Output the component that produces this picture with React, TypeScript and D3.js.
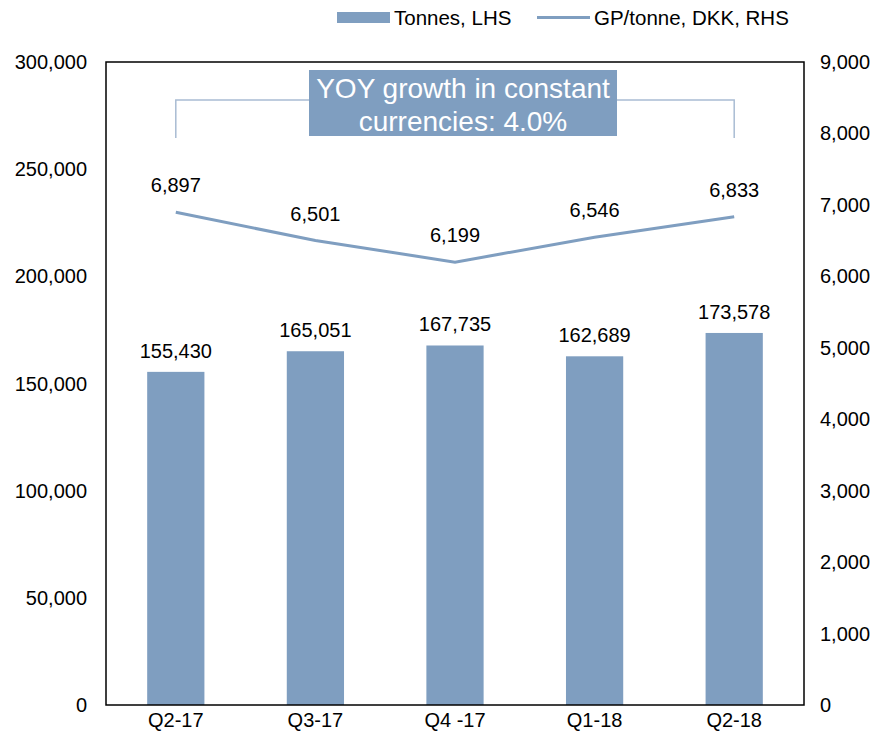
import React from "react";
import * as d3 from "d3";

const categories = ["Q2-17", "Q3-17", "Q4 -17", "Q1-18", "Q2-18"];
const tonnes = [155430, 165051, 167735, 162689, 173578];
const gpPerTonne = [6897, 6501, 6199, 6546, 6833];
const leftTicks = [0, 50000, 100000, 150000, 200000, 250000, 300000];
const rightTicks = [0, 1000, 2000, 3000, 4000, 5000, 6000, 7000, 8000, 9000];
const legendLabels = ["Tonnes, LHS", "GP/tonne, DKK, RHS"];
const annotationLines = ["YOY growth in constant", "currencies: 4.0%"];

const W = 879, H = 740;
const L = 106, R = 804, T = 62, B = 705;
const COLOR = "#7f9ec0";
const FONT = "Liberation Sans, Arial, sans-serif";
const FS = 20;

export default function App() {
  const x = d3.scaleBand<string>().domain(categories).range([L, R]).paddingInner(0.59).paddingOuter(0.295);
  const yL = d3.scaleLinear().domain([0, 300000]).range([B, T]);
  const yR = d3.scaleLinear().domain([0, 9000]).range([B, T]);
  const fmt = d3.format(",");
  const cx = (c: string) => (x(c) as number) + x.bandwidth() / 2;
  const line = d3.line<number>().x((_, i) => cx(categories[i])).y((d) => yR(d));
  const x0 = cx(categories[0]);
  const x4 = cx(categories[categories.length - 1]);
  return (
    <svg width={W} height={H} style={{ position: "absolute", left: 0, top: 0 }} fontFamily={FONT}>
      <rect width={W} height={H} fill="#fff" />
      {/* legend */}
      <rect x={337} y={12} width={53} height={11} fill={COLOR} />
      <text x={394} y={25} fontSize={20.5} fill="#000">{legendLabels[0]}</text>
      <line x1={537} x2={590} y1={17.5} y2={17.5} stroke={COLOR} strokeWidth={3} />
      <text x={594} y={25} fontSize={20.5} fill="#000">{legendLabels[1]}</text>
      {/* bars */}
      {tonnes.map((v, i) => (
        <rect key={i} x={x(categories[i])} y={yL(v)} width={x.bandwidth()} height={B - yL(v)} fill={COLOR} />
      ))}
      {tonnes.map((v, i) => (
        <text key={"bl" + i} x={cx(categories[i])} y={yL(v) - 14} textAnchor="middle" fontSize={FS}>{fmt(v)}</text>
      ))}
      {/* line */}
      <path d={line(gpPerTonne) || ""} fill="none" stroke={COLOR} strokeWidth={3} />
      {gpPerTonne.map((v, i) => (
        <text key={"ll" + i} x={cx(categories[i])} y={yR(v) - 20} textAnchor="middle" fontSize={FS}>{fmt(v)}</text>
      ))}
      {/* frame */}
      <rect x={L} y={T} width={R - L} height={B - T} fill="none" stroke="#000" strokeWidth={1.5} />
      {/* axes labels */}
      {leftTicks.map((t) => (
        <text key={"lt" + t} x={87} y={yL(t) + 7} textAnchor="end" fontSize={FS}>{fmt(t)}</text>
      ))}
      {rightTicks.map((t) => (
        <text key={"rt" + t} x={820} y={yR(t) + 7} textAnchor="start" fontSize={FS}>{fmt(t)}</text>
      ))}
      {categories.map((c) => (
        <text key={"c" + c} x={cx(c)} y={727} textAnchor="middle" fontSize={FS}>{c}</text>
      ))}
      {/* annotation */}
      <path d={`M${x0},138 V100 H${x4} V138`} fill="none" stroke="#a9bcd3" strokeWidth={1.5} />
      <rect x={309} y={70} width={308} height={66} fill={COLOR} />
      <text x={463} y={98} textAnchor="middle" fontSize={28} fill="#fff">{annotationLines[0]}</text>
      <text x={463} y={131} textAnchor="middle" fontSize={28} fill="#fff">{annotationLines[1]}</text>
    </svg>
  );
}
